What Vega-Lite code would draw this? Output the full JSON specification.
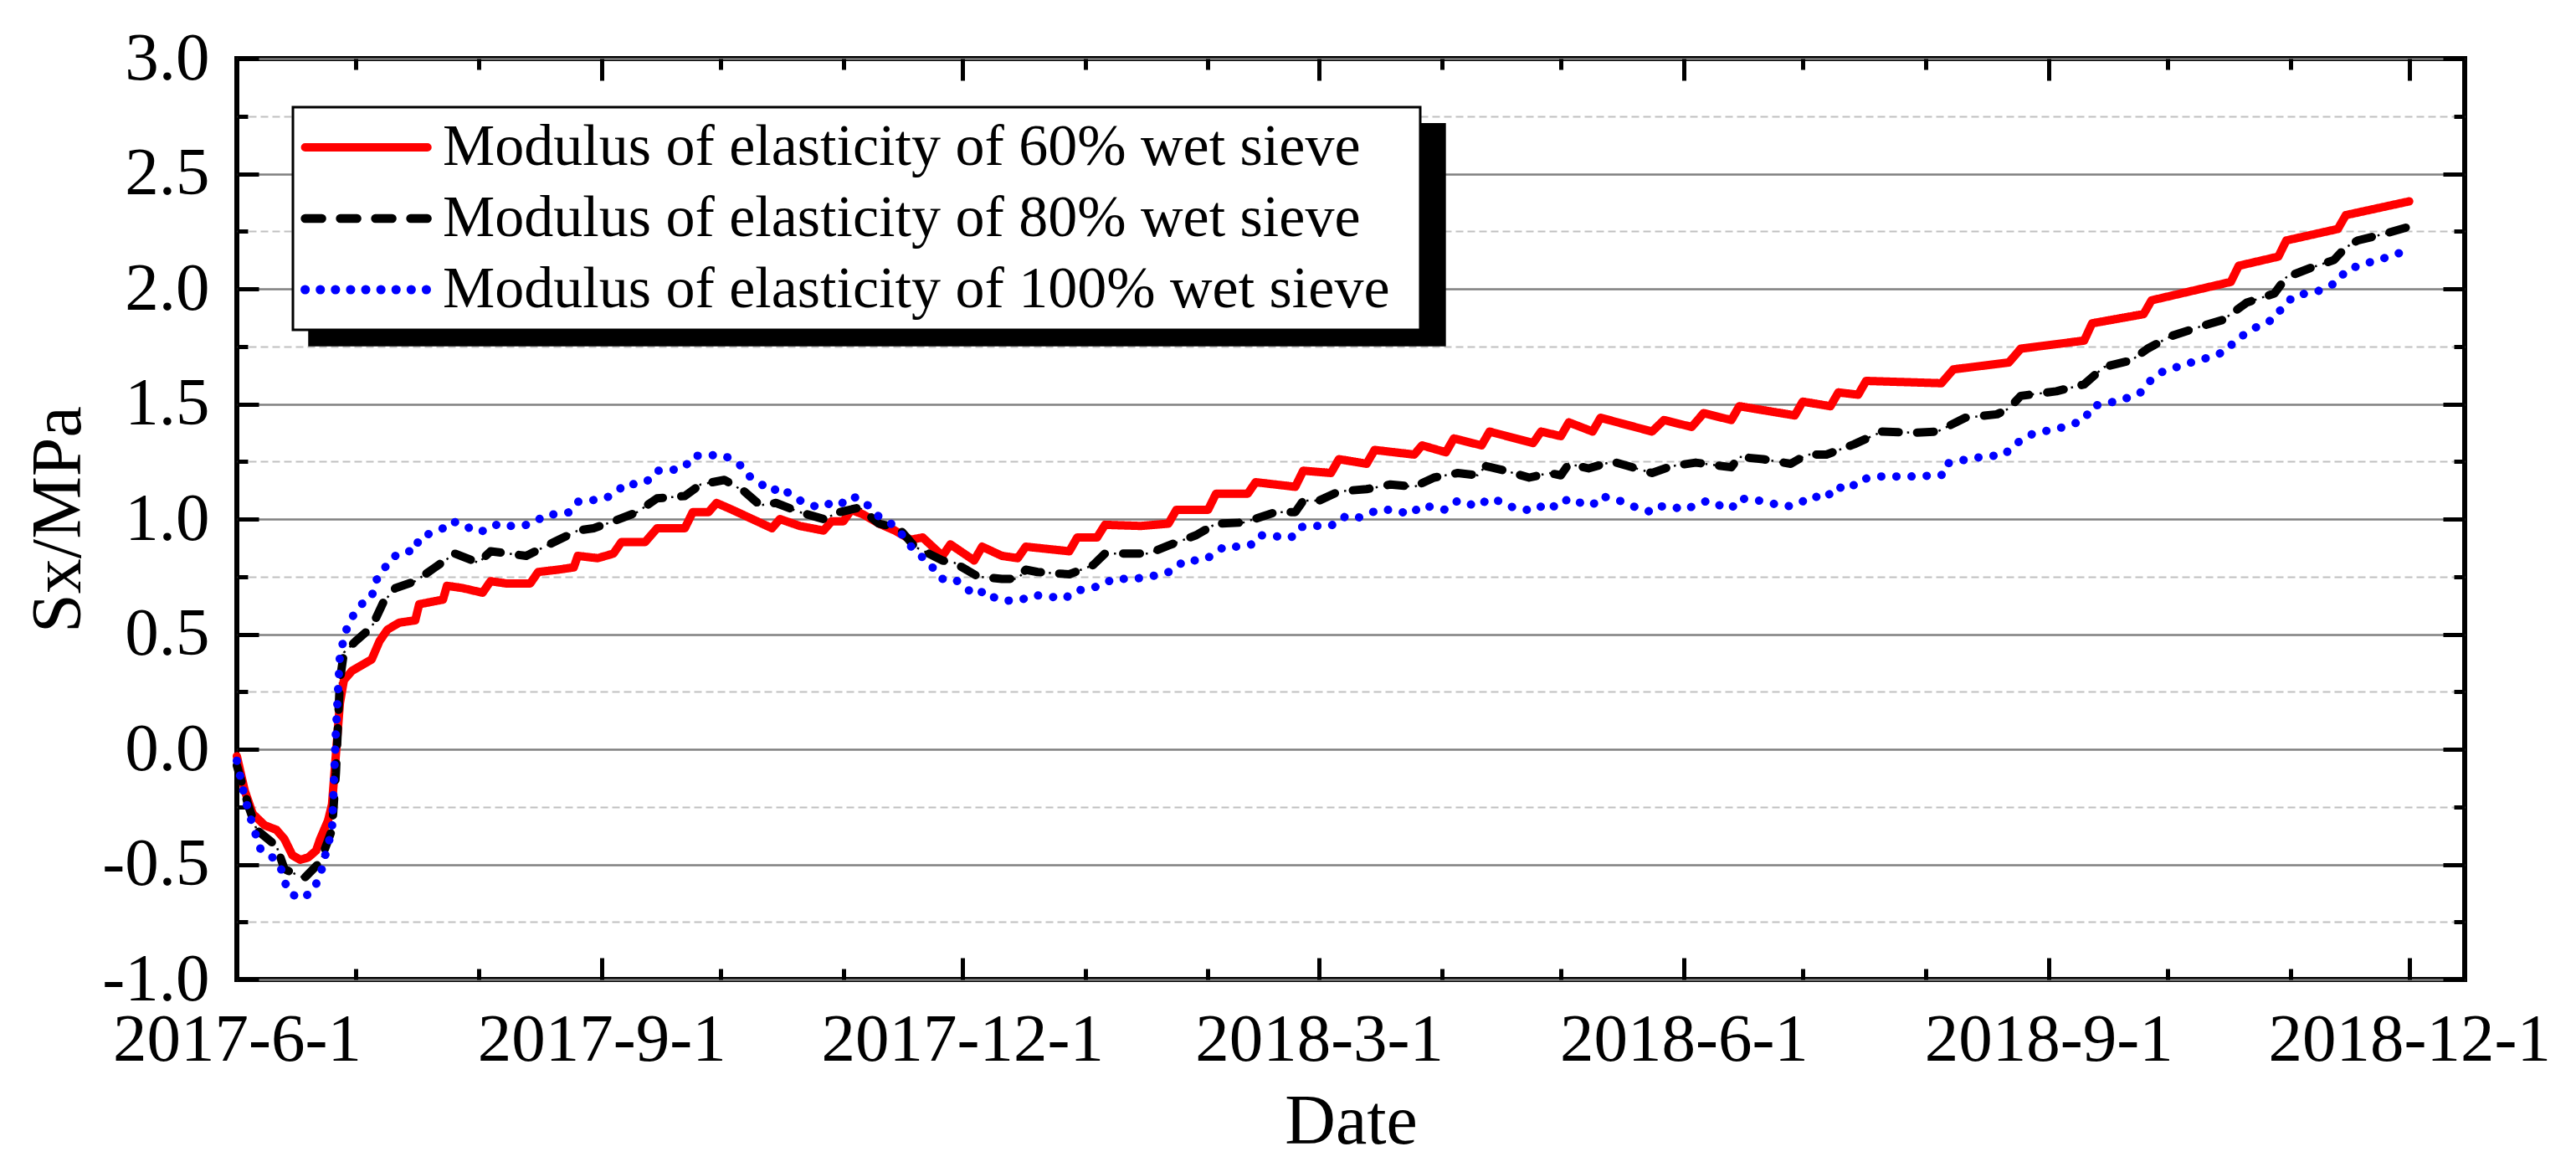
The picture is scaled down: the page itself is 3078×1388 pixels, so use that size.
{
  "$schema": "https://vega.github.io/schema/vega-lite/v6.json",
  "width": 2662,
  "height": 1100,
  "autosize": {"type": "none"},
  "padding": {"left": 283, "top": 70, "right": 133, "bottom": 218},
  "background": "white",
  "config": {
    "font": "Liberation Serif",
    "view": {"stroke": "black", "strokeWidth": 6},
    "axis": {"labelFont": "Liberation Serif", "titleFont": "Liberation Serif"},
    "legend": {"labelFont": "Liberation Serif", "titleFont": "Liberation Serif", "strokeWidth": 3}
  },
  "data": {
    "values": [
      {"d": "2017-06-01", "s": "60", "v": -0.03},
      {"d": "2017-06-03", "s": "60", "v": -0.18},
      {"d": "2017-06-05", "s": "60", "v": -0.28},
      {"d": "2017-06-08", "s": "60", "v": -0.33},
      {"d": "2017-06-11", "s": "60", "v": -0.35},
      {"d": "2017-06-13", "s": "60", "v": -0.39},
      {"d": "2017-06-15", "s": "60", "v": -0.46},
      {"d": "2017-06-17", "s": "60", "v": -0.48},
      {"d": "2017-06-19", "s": "60", "v": -0.47},
      {"d": "2017-06-21", "s": "60", "v": -0.44},
      {"d": "2017-06-22", "s": "60", "v": -0.39},
      {"d": "2017-06-24", "s": "60", "v": -0.31},
      {"d": "2017-06-25", "s": "60", "v": -0.24},
      {"d": "2017-06-26", "s": "60", "v": -0.02},
      {"d": "2017-06-27", "s": "60", "v": 0.20},
      {"d": "2017-06-28", "s": "60", "v": 0.30},
      {"d": "2017-06-30", "s": "60", "v": 0.34},
      {"d": "2017-07-03", "s": "60", "v": 0.37},
      {"d": "2017-07-05", "s": "60", "v": 0.39},
      {"d": "2017-07-07", "s": "60", "v": 0.47},
      {"d": "2017-07-09", "s": "60", "v": 0.52},
      {"d": "2017-07-12", "s": "60", "v": 0.55},
      {"d": "2017-07-16", "s": "60", "v": 0.56},
      {"d": "2017-07-17", "s": "60", "v": 0.63},
      {"d": "2017-07-20", "s": "60", "v": 0.64},
      {"d": "2017-07-23", "s": "60", "v": 0.65},
      {"d": "2017-07-24", "s": "60", "v": 0.71},
      {"d": "2017-07-28", "s": "60", "v": 0.70},
      {"d": "2017-08-02", "s": "60", "v": 0.68},
      {"d": "2017-08-04", "s": "60", "v": 0.73},
      {"d": "2017-08-08", "s": "60", "v": 0.72},
      {"d": "2017-08-14", "s": "60", "v": 0.72},
      {"d": "2017-08-16", "s": "60", "v": 0.77},
      {"d": "2017-08-21", "s": "60", "v": 0.78},
      {"d": "2017-08-25", "s": "60", "v": 0.79},
      {"d": "2017-08-26", "s": "60", "v": 0.84},
      {"d": "2017-08-31", "s": "60", "v": 0.83},
      {"d": "2017-09-04", "s": "60", "v": 0.85},
      {"d": "2017-09-06", "s": "60", "v": 0.90},
      {"d": "2017-09-12", "s": "60", "v": 0.90},
      {"d": "2017-09-15", "s": "60", "v": 0.96},
      {"d": "2017-09-22", "s": "60", "v": 0.96},
      {"d": "2017-09-24", "s": "60", "v": 1.03},
      {"d": "2017-09-28", "s": "60", "v": 1.03},
      {"d": "2017-09-30", "s": "60", "v": 1.07},
      {"d": "2017-10-04", "s": "60", "v": 1.04},
      {"d": "2017-10-09", "s": "60", "v": 1.00},
      {"d": "2017-10-14", "s": "60", "v": 0.96},
      {"d": "2017-10-16", "s": "60", "v": 1.00},
      {"d": "2017-10-21", "s": "60", "v": 0.97},
      {"d": "2017-10-27", "s": "60", "v": 0.95},
      {"d": "2017-10-29", "s": "60", "v": 0.99},
      {"d": "2017-11-01", "s": "60", "v": 0.99},
      {"d": "2017-11-03", "s": "60", "v": 1.04},
      {"d": "2017-11-06", "s": "60", "v": 1.02},
      {"d": "2017-11-10", "s": "60", "v": 0.98},
      {"d": "2017-11-14", "s": "60", "v": 0.95},
      {"d": "2017-11-18", "s": "60", "v": 0.91},
      {"d": "2017-11-21", "s": "60", "v": 0.92},
      {"d": "2017-11-26", "s": "60", "v": 0.84},
      {"d": "2017-11-28", "s": "60", "v": 0.89},
      {"d": "2017-12-04", "s": "60", "v": 0.82},
      {"d": "2017-12-06", "s": "60", "v": 0.88},
      {"d": "2017-12-11", "s": "60", "v": 0.84},
      {"d": "2017-12-15", "s": "60", "v": 0.83},
      {"d": "2017-12-17", "s": "60", "v": 0.88},
      {"d": "2017-12-28", "s": "60", "v": 0.86},
      {"d": "2017-12-30", "s": "60", "v": 0.92},
      {"d": "2018-01-04", "s": "60", "v": 0.92},
      {"d": "2018-01-06", "s": "60", "v": 0.975},
      {"d": "2018-01-15", "s": "60", "v": 0.97},
      {"d": "2018-01-22", "s": "60", "v": 0.98},
      {"d": "2018-01-24", "s": "60", "v": 1.04},
      {"d": "2018-02-01", "s": "60", "v": 1.04},
      {"d": "2018-02-03", "s": "60", "v": 1.11},
      {"d": "2018-02-11", "s": "60", "v": 1.11},
      {"d": "2018-02-13", "s": "60", "v": 1.16},
      {"d": "2018-02-23", "s": "60", "v": 1.14},
      {"d": "2018-02-25", "s": "60", "v": 1.21},
      {"d": "2018-03-04", "s": "60", "v": 1.20},
      {"d": "2018-03-06", "s": "60", "v": 1.26},
      {"d": "2018-03-13", "s": "60", "v": 1.24},
      {"d": "2018-03-15", "s": "60", "v": 1.30},
      {"d": "2018-03-25", "s": "60", "v": 1.28},
      {"d": "2018-03-27", "s": "60", "v": 1.32},
      {"d": "2018-04-02", "s": "60", "v": 1.29},
      {"d": "2018-04-04", "s": "60", "v": 1.35},
      {"d": "2018-04-11", "s": "60", "v": 1.32},
      {"d": "2018-04-13", "s": "60", "v": 1.38},
      {"d": "2018-04-24", "s": "60", "v": 1.33},
      {"d": "2018-04-26", "s": "60", "v": 1.38},
      {"d": "2018-05-01", "s": "60", "v": 1.36},
      {"d": "2018-05-03", "s": "60", "v": 1.42},
      {"d": "2018-05-09", "s": "60", "v": 1.38},
      {"d": "2018-05-11", "s": "60", "v": 1.44},
      {"d": "2018-05-24", "s": "60", "v": 1.38},
      {"d": "2018-05-27", "s": "60", "v": 1.43},
      {"d": "2018-06-03", "s": "60", "v": 1.40},
      {"d": "2018-06-06", "s": "60", "v": 1.46},
      {"d": "2018-06-13", "s": "60", "v": 1.43},
      {"d": "2018-06-15", "s": "60", "v": 1.49},
      {"d": "2018-06-29", "s": "60", "v": 1.45},
      {"d": "2018-07-01", "s": "60", "v": 1.51},
      {"d": "2018-07-08", "s": "60", "v": 1.49},
      {"d": "2018-07-10", "s": "60", "v": 1.55},
      {"d": "2018-07-15", "s": "60", "v": 1.54},
      {"d": "2018-07-17", "s": "60", "v": 1.60},
      {"d": "2018-08-05", "s": "60", "v": 1.59},
      {"d": "2018-08-08", "s": "60", "v": 1.65},
      {"d": "2018-08-22", "s": "60", "v": 1.68},
      {"d": "2018-08-25", "s": "60", "v": 1.74},
      {"d": "2018-09-10", "s": "60", "v": 1.775},
      {"d": "2018-09-12", "s": "60", "v": 1.85},
      {"d": "2018-09-25", "s": "60", "v": 1.89},
      {"d": "2018-09-27", "s": "60", "v": 1.95},
      {"d": "2018-10-17", "s": "60", "v": 2.03},
      {"d": "2018-10-19", "s": "60", "v": 2.10},
      {"d": "2018-10-29", "s": "60", "v": 2.14},
      {"d": "2018-10-31", "s": "60", "v": 2.21},
      {"d": "2018-11-13", "s": "60", "v": 2.26},
      {"d": "2018-11-15", "s": "60", "v": 2.32},
      {"d": "2018-12-01", "s": "60", "v": 2.38},

      {"d": "2017-06-01", "s": "80", "v": -0.07},
      {"d": "2017-06-04", "s": "80", "v": -0.25},
      {"d": "2017-06-06", "s": "80", "v": -0.35},
      {"d": "2017-06-11", "s": "80", "v": -0.42},
      {"d": "2017-06-13", "s": "80", "v": -0.52},
      {"d": "2017-06-18", "s": "80", "v": -0.56},
      {"d": "2017-06-22", "s": "80", "v": -0.49},
      {"d": "2017-06-25", "s": "80", "v": -0.35},
      {"d": "2017-06-26", "s": "80", "v": -0.10},
      {"d": "2017-06-27", "s": "80", "v": 0.30},
      {"d": "2017-06-28", "s": "80", "v": 0.42},
      {"d": "2017-07-01", "s": "80", "v": 0.47},
      {"d": "2017-07-05", "s": "80", "v": 0.53},
      {"d": "2017-07-08", "s": "80", "v": 0.64},
      {"d": "2017-07-11", "s": "80", "v": 0.70},
      {"d": "2017-07-16", "s": "80", "v": 0.73},
      {"d": "2017-07-21", "s": "80", "v": 0.79},
      {"d": "2017-07-26", "s": "80", "v": 0.85},
      {"d": "2017-08-01", "s": "80", "v": 0.81},
      {"d": "2017-08-04", "s": "80", "v": 0.86},
      {"d": "2017-08-13", "s": "80", "v": 0.84},
      {"d": "2017-08-20", "s": "80", "v": 0.90},
      {"d": "2017-08-26", "s": "80", "v": 0.95},
      {"d": "2017-08-30", "s": "80", "v": 0.96},
      {"d": "2017-09-04", "s": "80", "v": 0.99},
      {"d": "2017-09-10", "s": "80", "v": 1.03},
      {"d": "2017-09-15", "s": "80", "v": 1.09},
      {"d": "2017-09-22", "s": "80", "v": 1.10},
      {"d": "2017-09-26", "s": "80", "v": 1.15},
      {"d": "2017-10-02", "s": "80", "v": 1.17},
      {"d": "2017-10-07", "s": "80", "v": 1.12},
      {"d": "2017-10-11", "s": "80", "v": 1.06},
      {"d": "2017-10-15", "s": "80", "v": 1.07},
      {"d": "2017-10-21", "s": "80", "v": 1.03},
      {"d": "2017-10-27", "s": "80", "v": 1.00},
      {"d": "2017-10-31", "s": "80", "v": 1.03},
      {"d": "2017-11-05", "s": "80", "v": 1.05},
      {"d": "2017-11-10", "s": "80", "v": 0.98},
      {"d": "2017-11-15", "s": "80", "v": 0.96},
      {"d": "2017-11-19", "s": "80", "v": 0.88},
      {"d": "2017-11-26", "s": "80", "v": 0.82},
      {"d": "2017-11-29", "s": "80", "v": 0.81},
      {"d": "2017-12-05", "s": "80", "v": 0.75},
      {"d": "2017-12-11", "s": "80", "v": 0.74},
      {"d": "2017-12-15", "s": "80", "v": 0.74},
      {"d": "2017-12-17", "s": "80", "v": 0.78},
      {"d": "2017-12-20", "s": "80", "v": 0.77},
      {"d": "2017-12-28", "s": "80", "v": 0.76},
      {"d": "2018-01-03", "s": "80", "v": 0.80},
      {"d": "2018-01-06", "s": "80", "v": 0.85},
      {"d": "2018-01-11", "s": "80", "v": 0.85},
      {"d": "2018-01-17", "s": "80", "v": 0.85},
      {"d": "2018-01-22", "s": "80", "v": 0.885},
      {"d": "2018-01-29", "s": "80", "v": 0.93},
      {"d": "2018-02-03", "s": "80", "v": 0.98},
      {"d": "2018-02-10", "s": "80", "v": 0.985},
      {"d": "2018-02-18", "s": "80", "v": 1.03},
      {"d": "2018-02-23", "s": "80", "v": 1.03},
      {"d": "2018-02-25", "s": "80", "v": 1.08},
      {"d": "2018-03-01", "s": "80", "v": 1.08},
      {"d": "2018-03-06", "s": "80", "v": 1.12},
      {"d": "2018-03-13", "s": "80", "v": 1.13},
      {"d": "2018-03-19", "s": "80", "v": 1.15},
      {"d": "2018-03-25", "s": "80", "v": 1.14},
      {"d": "2018-03-30", "s": "80", "v": 1.18},
      {"d": "2018-04-05", "s": "80", "v": 1.20},
      {"d": "2018-04-10", "s": "80", "v": 1.19},
      {"d": "2018-04-12", "s": "80", "v": 1.23},
      {"d": "2018-04-17", "s": "80", "v": 1.21},
      {"d": "2018-04-23", "s": "80", "v": 1.18},
      {"d": "2018-04-28", "s": "80", "v": 1.20},
      {"d": "2018-05-01", "s": "80", "v": 1.19},
      {"d": "2018-05-03", "s": "80", "v": 1.24},
      {"d": "2018-05-08", "s": "80", "v": 1.22},
      {"d": "2018-05-14", "s": "80", "v": 1.25},
      {"d": "2018-05-24", "s": "80", "v": 1.20},
      {"d": "2018-05-29", "s": "80", "v": 1.23},
      {"d": "2018-06-04", "s": "80", "v": 1.245},
      {"d": "2018-06-13", "s": "80", "v": 1.225},
      {"d": "2018-06-15", "s": "80", "v": 1.27},
      {"d": "2018-06-21", "s": "80", "v": 1.26},
      {"d": "2018-06-28", "s": "80", "v": 1.24},
      {"d": "2018-07-02", "s": "80", "v": 1.28},
      {"d": "2018-07-07", "s": "80", "v": 1.28},
      {"d": "2018-07-14", "s": "80", "v": 1.325},
      {"d": "2018-07-21", "s": "80", "v": 1.38},
      {"d": "2018-07-29", "s": "80", "v": 1.375},
      {"d": "2018-08-04", "s": "80", "v": 1.38},
      {"d": "2018-08-11", "s": "80", "v": 1.44},
      {"d": "2018-08-19", "s": "80", "v": 1.455},
      {"d": "2018-08-22", "s": "80", "v": 1.48},
      {"d": "2018-08-25", "s": "80", "v": 1.535},
      {"d": "2018-09-03", "s": "80", "v": 1.555},
      {"d": "2018-09-10", "s": "80", "v": 1.585},
      {"d": "2018-09-15", "s": "80", "v": 1.66},
      {"d": "2018-09-22", "s": "80", "v": 1.69},
      {"d": "2018-09-26", "s": "80", "v": 1.74},
      {"d": "2018-10-02", "s": "80", "v": 1.795},
      {"d": "2018-10-10", "s": "80", "v": 1.84},
      {"d": "2018-10-15", "s": "80", "v": 1.865},
      {"d": "2018-10-21", "s": "80", "v": 1.94},
      {"d": "2018-10-28", "s": "80", "v": 1.98},
      {"d": "2018-10-31", "s": "80", "v": 2.05},
      {"d": "2018-11-06", "s": "80", "v": 2.09},
      {"d": "2018-11-12", "s": "80", "v": 2.125},
      {"d": "2018-11-15", "s": "80", "v": 2.18},
      {"d": "2018-11-18", "s": "80", "v": 2.21},
      {"d": "2018-11-25", "s": "80", "v": 2.24},
      {"d": "2018-12-01", "s": "80", "v": 2.27},

      {"d": "2017-06-01", "s": "100", "v": -0.05},
      {"d": "2017-06-03", "s": "100", "v": -0.21},
      {"d": "2017-06-05", "s": "100", "v": -0.33},
      {"d": "2017-06-07", "s": "100", "v": -0.435},
      {"d": "2017-06-10", "s": "100", "v": -0.47},
      {"d": "2017-06-12", "s": "100", "v": -0.51},
      {"d": "2017-06-13", "s": "100", "v": -0.57},
      {"d": "2017-06-14", "s": "100", "v": -0.62},
      {"d": "2017-06-17", "s": "100", "v": -0.65},
      {"d": "2017-06-20", "s": "100", "v": -0.62},
      {"d": "2017-06-22", "s": "100", "v": -0.55},
      {"d": "2017-06-23", "s": "100", "v": -0.48},
      {"d": "2017-06-25", "s": "100", "v": -0.35},
      {"d": "2017-06-26", "s": "100", "v": 0.08},
      {"d": "2017-06-27", "s": "100", "v": 0.41},
      {"d": "2017-06-28", "s": "100", "v": 0.48},
      {"d": "2017-06-29", "s": "100", "v": 0.54},
      {"d": "2017-07-01", "s": "100", "v": 0.60},
      {"d": "2017-07-03", "s": "100", "v": 0.64},
      {"d": "2017-07-05", "s": "100", "v": 0.66},
      {"d": "2017-07-06", "s": "100", "v": 0.73},
      {"d": "2017-07-08", "s": "100", "v": 0.78},
      {"d": "2017-07-10", "s": "100", "v": 0.83},
      {"d": "2017-07-13", "s": "100", "v": 0.86},
      {"d": "2017-07-16", "s": "100", "v": 0.86},
      {"d": "2017-07-17", "s": "100", "v": 0.92},
      {"d": "2017-07-21", "s": "100", "v": 0.945},
      {"d": "2017-07-23", "s": "100", "v": 0.96},
      {"d": "2017-07-25", "s": "100", "v": 0.99},
      {"d": "2017-07-28", "s": "100", "v": 0.98},
      {"d": "2017-07-31", "s": "100", "v": 0.945},
      {"d": "2017-08-03", "s": "100", "v": 0.95},
      {"d": "2017-08-06", "s": "100", "v": 0.98},
      {"d": "2017-08-09", "s": "100", "v": 0.97},
      {"d": "2017-08-12", "s": "100", "v": 0.97},
      {"d": "2017-08-15", "s": "100", "v": 0.985},
      {"d": "2017-08-18", "s": "100", "v": 1.02},
      {"d": "2017-08-21", "s": "100", "v": 1.02},
      {"d": "2017-08-24", "s": "100", "v": 1.03},
      {"d": "2017-08-26", "s": "100", "v": 1.075},
      {"d": "2017-08-29", "s": "100", "v": 1.08},
      {"d": "2017-09-02", "s": "100", "v": 1.09},
      {"d": "2017-09-05", "s": "100", "v": 1.12},
      {"d": "2017-09-07", "s": "100", "v": 1.155},
      {"d": "2017-09-10", "s": "100", "v": 1.15},
      {"d": "2017-09-13", "s": "100", "v": 1.17},
      {"d": "2017-09-15", "s": "100", "v": 1.21},
      {"d": "2017-09-18", "s": "100", "v": 1.21},
      {"d": "2017-09-22", "s": "100", "v": 1.225},
      {"d": "2017-09-24", "s": "100", "v": 1.275},
      {"d": "2017-09-27", "s": "100", "v": 1.275},
      {"d": "2017-10-01", "s": "100", "v": 1.28},
      {"d": "2017-10-04", "s": "100", "v": 1.26},
      {"d": "2017-10-07", "s": "100", "v": 1.22},
      {"d": "2017-10-08", "s": "100", "v": 1.19},
      {"d": "2017-10-11", "s": "100", "v": 1.155},
      {"d": "2017-10-14", "s": "100", "v": 1.12},
      {"d": "2017-10-16", "s": "100", "v": 1.14},
      {"d": "2017-10-18", "s": "100", "v": 1.115},
      {"d": "2017-10-20", "s": "100", "v": 1.09},
      {"d": "2017-10-23", "s": "100", "v": 1.065},
      {"d": "2017-10-26", "s": "100", "v": 1.05},
      {"d": "2017-10-29", "s": "100", "v": 1.07},
      {"d": "2017-10-31", "s": "100", "v": 1.06},
      {"d": "2017-11-03", "s": "100", "v": 1.10},
      {"d": "2017-11-06", "s": "100", "v": 1.08},
      {"d": "2017-11-08", "s": "100", "v": 1.045},
      {"d": "2017-11-10", "s": "100", "v": 1.01},
      {"d": "2017-11-13", "s": "100", "v": 0.98},
      {"d": "2017-11-15", "s": "100", "v": 0.95},
      {"d": "2017-11-17", "s": "100", "v": 0.905},
      {"d": "2017-11-19", "s": "100", "v": 0.86},
      {"d": "2017-11-22", "s": "100", "v": 0.82},
      {"d": "2017-11-24", "s": "100", "v": 0.78},
      {"d": "2017-11-26", "s": "100", "v": 0.74},
      {"d": "2017-11-29", "s": "100", "v": 0.74},
      {"d": "2017-12-02", "s": "100", "v": 0.70},
      {"d": "2017-12-04", "s": "100", "v": 0.67},
      {"d": "2017-12-07", "s": "100", "v": 0.69},
      {"d": "2017-12-09", "s": "100", "v": 0.66},
      {"d": "2017-12-12", "s": "100", "v": 0.645},
      {"d": "2017-12-16", "s": "100", "v": 0.65},
      {"d": "2017-12-19", "s": "100", "v": 0.67},
      {"d": "2017-12-22", "s": "100", "v": 0.665},
      {"d": "2017-12-27", "s": "100", "v": 0.655},
      {"d": "2017-12-29", "s": "100", "v": 0.685},
      {"d": "2018-01-02", "s": "100", "v": 0.70},
      {"d": "2018-01-05", "s": "100", "v": 0.71},
      {"d": "2018-01-08", "s": "100", "v": 0.74},
      {"d": "2018-01-12", "s": "100", "v": 0.74},
      {"d": "2018-01-16", "s": "100", "v": 0.745},
      {"d": "2018-01-20", "s": "100", "v": 0.76},
      {"d": "2018-01-23", "s": "100", "v": 0.775},
      {"d": "2018-01-26", "s": "100", "v": 0.82},
      {"d": "2018-01-30", "s": "100", "v": 0.82},
      {"d": "2018-02-02", "s": "100", "v": 0.84},
      {"d": "2018-02-05", "s": "100", "v": 0.88},
      {"d": "2018-02-09", "s": "100", "v": 0.88},
      {"d": "2018-02-12", "s": "100", "v": 0.89},
      {"d": "2018-02-14", "s": "100", "v": 0.93},
      {"d": "2018-02-18", "s": "100", "v": 0.925},
      {"d": "2018-02-22", "s": "100", "v": 0.92},
      {"d": "2018-02-24", "s": "100", "v": 0.965},
      {"d": "2018-02-28", "s": "100", "v": 0.97},
      {"d": "2018-03-04", "s": "100", "v": 0.97},
      {"d": "2018-03-07", "s": "100", "v": 1.01},
      {"d": "2018-03-10", "s": "100", "v": 1.00},
      {"d": "2018-03-13", "s": "100", "v": 1.02},
      {"d": "2018-03-16", "s": "100", "v": 1.04},
      {"d": "2018-03-20", "s": "100", "v": 1.04},
      {"d": "2018-03-24", "s": "100", "v": 1.02},
      {"d": "2018-03-27", "s": "100", "v": 1.06},
      {"d": "2018-03-30", "s": "100", "v": 1.05},
      {"d": "2018-04-02", "s": "100", "v": 1.04},
      {"d": "2018-04-05", "s": "100", "v": 1.08},
      {"d": "2018-04-08", "s": "100", "v": 1.065},
      {"d": "2018-04-10", "s": "100", "v": 1.055},
      {"d": "2018-04-13", "s": "100", "v": 1.09},
      {"d": "2018-04-16", "s": "100", "v": 1.075},
      {"d": "2018-04-19", "s": "100", "v": 1.05},
      {"d": "2018-04-22", "s": "100", "v": 1.04},
      {"d": "2018-04-25", "s": "100", "v": 1.04},
      {"d": "2018-04-27", "s": "100", "v": 1.07},
      {"d": "2018-04-30", "s": "100", "v": 1.05},
      {"d": "2018-05-03", "s": "100", "v": 1.09},
      {"d": "2018-05-06", "s": "100", "v": 1.07},
      {"d": "2018-05-09", "s": "100", "v": 1.06},
      {"d": "2018-05-11", "s": "100", "v": 1.10},
      {"d": "2018-05-15", "s": "100", "v": 1.085},
      {"d": "2018-05-18", "s": "100", "v": 1.065},
      {"d": "2018-05-20", "s": "100", "v": 1.05},
      {"d": "2018-05-24", "s": "100", "v": 1.03},
      {"d": "2018-05-26", "s": "100", "v": 1.055},
      {"d": "2018-05-29", "s": "100", "v": 1.055},
      {"d": "2018-06-01", "s": "100", "v": 1.04},
      {"d": "2018-06-04", "s": "100", "v": 1.06},
      {"d": "2018-06-07", "s": "100", "v": 1.08},
      {"d": "2018-06-10", "s": "100", "v": 1.06},
      {"d": "2018-06-13", "s": "100", "v": 1.045},
      {"d": "2018-06-15", "s": "100", "v": 1.09},
      {"d": "2018-06-20", "s": "100", "v": 1.08},
      {"d": "2018-06-24", "s": "100", "v": 1.065},
      {"d": "2018-06-27", "s": "100", "v": 1.055},
      {"d": "2018-06-30", "s": "100", "v": 1.065},
      {"d": "2018-07-03", "s": "100", "v": 1.10},
      {"d": "2018-07-07", "s": "100", "v": 1.09},
      {"d": "2018-07-09", "s": "100", "v": 1.14},
      {"d": "2018-07-13", "s": "100", "v": 1.13},
      {"d": "2018-07-15", "s": "100", "v": 1.17},
      {"d": "2018-07-20", "s": "100", "v": 1.185},
      {"d": "2018-07-28", "s": "100", "v": 1.185},
      {"d": "2018-08-05", "s": "100", "v": 1.19},
      {"d": "2018-08-06", "s": "100", "v": 1.24},
      {"d": "2018-08-13", "s": "100", "v": 1.265},
      {"d": "2018-08-21", "s": "100", "v": 1.28},
      {"d": "2018-08-23", "s": "100", "v": 1.32},
      {"d": "2018-08-28", "s": "100", "v": 1.37},
      {"d": "2018-09-05", "s": "100", "v": 1.40},
      {"d": "2018-09-10", "s": "100", "v": 1.43},
      {"d": "2018-09-12", "s": "100", "v": 1.49},
      {"d": "2018-09-19", "s": "100", "v": 1.515},
      {"d": "2018-09-24", "s": "100", "v": 1.545},
      {"d": "2018-09-26", "s": "100", "v": 1.59},
      {"d": "2018-09-29", "s": "100", "v": 1.635},
      {"d": "2018-10-05", "s": "100", "v": 1.67},
      {"d": "2018-10-11", "s": "100", "v": 1.70},
      {"d": "2018-10-16", "s": "100", "v": 1.73},
      {"d": "2018-10-18", "s": "100", "v": 1.775},
      {"d": "2018-10-23", "s": "100", "v": 1.83},
      {"d": "2018-10-28", "s": "100", "v": 1.87},
      {"d": "2018-10-30", "s": "100", "v": 1.92},
      {"d": "2018-11-02", "s": "100", "v": 1.97},
      {"d": "2018-11-08", "s": "100", "v": 1.99},
      {"d": "2018-11-13", "s": "100", "v": 2.03},
      {"d": "2018-11-15", "s": "100", "v": 2.08},
      {"d": "2018-11-19", "s": "100", "v": 2.105},
      {"d": "2018-11-25", "s": "100", "v": 2.135},
      {"d": "2018-12-01", "s": "100", "v": 2.17}
    ]
  },
  "layer": [
    {
      "data": {"values": [{}]},
      "mark": {"type": "rect", "fill": "black"},
      "encoding": {
        "x": {"datum": {"year": 2017, "month": 6, "date": 19, "utc": true}, "type": "temporal", "axis": null, "scale": {"type": "utc"}},
        "x2": {"datum": {"year": 2018, "month": 4, "date": 2, "utc": true}},
        "y": {"datum": 2.72, "type": "quantitative", "axis": null},
        "y2": {"datum": 1.75}
      }
    },
    {
      "transform": [{"filter": "datum.s == '80'"}],
      "mark": {"type": "line", "color": "black", "strokeWidth": 2.5, "strokeDash": [2.5, 7]},
      "encoding": {
        "x": {"field": "d", "type": "temporal", "scale": {"type": "utc"}, "axis": null},
        "y": {"field": "v", "type": "quantitative", "axis": null}
      }
    },
    {
      "mark": {"type": "line", "strokeWidth": 10, "strokeCap": "round", "strokeJoin": "round"},
      "encoding": {
        "x": {
          "field": "d",
          "type": "temporal",
          "scale": {"type": "utc", "domain": [{"year": 2017, "month": 6, "date": 1, "utc": true}, {"year": 2018, "month": 12, "date": 15, "utc": true}], "nice": false},
          "axis": {
            "orient": "bottom",
            "values": [
              {"year": 2017, "month": 6, "date": 1, "utc": true},
              {"year": 2017, "month": 7, "date": 1, "utc": true},
              {"year": 2017, "month": 8, "date": 1, "utc": true},
              {"year": 2017, "month": 9, "date": 1, "utc": true},
              {"year": 2017, "month": 10, "date": 1, "utc": true},
              {"year": 2017, "month": 11, "date": 1, "utc": true},
              {"year": 2017, "month": 12, "date": 1, "utc": true},
              {"year": 2018, "month": 1, "date": 1, "utc": true},
              {"year": 2018, "month": 2, "date": 1, "utc": true},
              {"year": 2018, "month": 3, "date": 1, "utc": true},
              {"year": 2018, "month": 4, "date": 1, "utc": true},
              {"year": 2018, "month": 5, "date": 1, "utc": true},
              {"year": 2018, "month": 6, "date": 1, "utc": true},
              {"year": 2018, "month": 7, "date": 1, "utc": true},
              {"year": 2018, "month": 8, "date": 1, "utc": true},
              {"year": 2018, "month": 9, "date": 1, "utc": true},
              {"year": 2018, "month": 10, "date": 1, "utc": true},
              {"year": 2018, "month": 11, "date": 1, "utc": true},
              {"year": 2018, "month": 12, "date": 1, "utc": true}
            ],
            "domain": false,
            "grid": false,
            "tickColor": "black",
            "tickWidth": 5,
            "tickSize": {"condition": {"test": "utcmonth(datum.value) % 3 == 2", "value": -26}, "value": -13},
            "labelExpr": "utcmonth(datum.value) % 3 == 2 ? utcyear(datum.value) + '-' + (utcmonth(datum.value) + 1) + '-1' : ''",
            "labelFont": "Liberation Serif",
            "labelFontSize": 81,
            "labelColor": "black",
            "labelBaseline": "alphabetic",
            "labelPadding": 122,
            "labelLimit": 2000,
            "labelFlush": false,
            "labelOverlap": false,
            "labelBound": false,
            "title": "Date",
            "titleFont": "Liberation Serif",
            "titleFontSize": 84,
            "titleFontWeight": "normal",
            "titleColor": "black",
            "titleX": 1331,
            "titleY": 195,
            "titleBaseline": "alphabetic"
          }
        },
        "y": {
          "field": "v",
          "type": "quantitative",
          "scale": {"domain": [-1, 3], "nice": false, "zero": false},
          "axis": {
            "orient": "left",
            "values": [-1, -0.75, -0.5, -0.25, 0, 0.25, 0.5, 0.75, 1, 1.25, 1.5, 1.75, 2, 2.25, 2.5, 2.75, 3],
            "domain": false,
            "grid": true,
            "gridColor": {"condition": {"test": "abs(datum.value * 2 - round(datum.value * 2)) < 0.001", "value": "#808080"}, "value": "#c0c0c0"},
            "gridDash": {"condition": {"test": "abs(datum.value * 2 - round(datum.value * 2)) < 0.001", "value": [1, 0]}, "value": [9, 5]},
            "gridWidth": {"condition": {"test": "abs(datum.value * 2 - round(datum.value * 2)) < 0.001", "value": 2.5}, "value": 2},
            "tickColor": "black",
            "tickWidth": 5,
            "tickSize": {"condition": {"test": "abs(datum.value * 2 - round(datum.value * 2)) < 0.001", "value": -26}, "value": -13},
            "labelExpr": "abs(datum.value * 2 - round(datum.value * 2)) < 0.001 ? (datum.value < 0 ? '-' : '') + format(abs(datum.value), '.1f') : ''",
            "labelFont": "Liberation Serif",
            "labelFontSize": 81,
            "labelColor": "black",
            "labelPadding": 59,
            "labelLimit": 2000,
            "labelFlush": false,
            "labelOverlap": false,
            "labelBound": false,
            "title": "Sx/MPa",
            "titleFont": "Liberation Serif",
            "titleFontSize": 84,
            "titleFontWeight": "normal",
            "titleColor": "black",
            "titleX": -188,
            "titleY": 550,
            "titleBaseline": "alphabetic"
          }
        },
        "color": {
          "field": "s",
          "type": "nominal",
          "scale": {"domain": ["60", "80", "100"], "range": ["#ff0000", "#000000", "#0000ff"]},
          "legend": {
            "title": " ",
            "titleOrient": "right",
            "titlePadding": 24,
            "titleFontSize": 70,
            "orient": "none",
            "legendX": 67,
            "legendY": 58,
            "direction": "vertical",
            "symbolType": "M-1.63,0H5.5",
            "symbolSize": 1681,
            "symbolStrokeWidth": 10,
            "symbolFillColor": "transparent",
            "labelFont": "Liberation Serif",
            "labelFontSize": 70,
            "labelColor": "black",
            "labelLimit": 3000,
            "labelOffset": 96,
            "rowPadding": 15,
            "padding": 13,
            "strokeColor": "black",
            "fillColor": "white",
            "labelExpr": "'Modulus of elasticity of ' + datum.label + '% wet sieve'",
            "encoding": {
              "symbols": {"strokeCap": {"value": "round"}, "fill": {"value": "transparent"}},
              "legend": {"strokeWidth": {"value": 3}}
            }
          }
        },
        "strokeDash": {
          "field": "s",
          "type": "nominal",
          "scale": {"domain": ["60", "80", "100"], "range": [[1, 0], [20, 22], [0.1, 18]]},
          "legend": {
            "title": " ",
            "titleOrient": "right",
            "titlePadding": 24,
            "titleFontSize": 70,
            "orient": "none",
            "legendX": 67,
            "legendY": 58,
            "direction": "vertical",
            "symbolType": "M-1.63,0H5.5",
            "symbolSize": 1681,
            "symbolStrokeWidth": 10,
            "symbolFillColor": "transparent",
            "labelFont": "Liberation Serif",
            "labelFontSize": 70,
            "labelColor": "black",
            "labelLimit": 3000,
            "labelOffset": 96,
            "rowPadding": 15,
            "padding": 13,
            "strokeColor": "black",
            "fillColor": "white",
            "labelExpr": "'Modulus of elasticity of ' + datum.label + '% wet sieve'",
            "encoding": {
              "symbols": {"strokeCap": {"value": "round"}, "fill": {"value": "transparent"}},
              "legend": {"strokeWidth": {"value": 3}}
            }
          }
        },
        "strokeWidth": {
          "field": "s",
          "type": "nominal",
          "scale": {"domain": ["60", "80", "100"], "range": [10, 11, 11]},
          "legend": null
        }
      }
    },
    {
      "mark": {"type": "point", "opacity": 0},
      "encoding": {
        "x": {
          "field": "d",
          "type": "temporal",
          "scale": {"type": "utc"},
          "axis": {
            "orient": "top",
            "values": [
              {"year": 2017, "month": 6, "date": 1, "utc": true},
              {"year": 2017, "month": 7, "date": 1, "utc": true},
              {"year": 2017, "month": 8, "date": 1, "utc": true},
              {"year": 2017, "month": 9, "date": 1, "utc": true},
              {"year": 2017, "month": 10, "date": 1, "utc": true},
              {"year": 2017, "month": 11, "date": 1, "utc": true},
              {"year": 2017, "month": 12, "date": 1, "utc": true},
              {"year": 2018, "month": 1, "date": 1, "utc": true},
              {"year": 2018, "month": 2, "date": 1, "utc": true},
              {"year": 2018, "month": 3, "date": 1, "utc": true},
              {"year": 2018, "month": 4, "date": 1, "utc": true},
              {"year": 2018, "month": 5, "date": 1, "utc": true},
              {"year": 2018, "month": 6, "date": 1, "utc": true},
              {"year": 2018, "month": 7, "date": 1, "utc": true},
              {"year": 2018, "month": 8, "date": 1, "utc": true},
              {"year": 2018, "month": 9, "date": 1, "utc": true},
              {"year": 2018, "month": 10, "date": 1, "utc": true},
              {"year": 2018, "month": 11, "date": 1, "utc": true},
              {"year": 2018, "month": 12, "date": 1, "utc": true}
            ],
            "domain": false,
            "grid": false,
            "labels": false,
            "title": null,
            "tickColor": "black",
            "tickWidth": 5,
            "tickSize": {"condition": {"test": "utcmonth(datum.value) % 3 == 2", "value": -26}, "value": -13}
          }
        },
        "y": {
          "field": "v",
          "type": "quantitative",
          "axis": {
            "orient": "right",
            "values": [-1, -0.75, -0.5, -0.25, 0, 0.25, 0.5, 0.75, 1, 1.25, 1.5, 1.75, 2, 2.25, 2.5, 2.75, 3],
            "domain": false,
            "grid": false,
            "labels": false,
            "title": null,
            "tickColor": "black",
            "tickWidth": 5,
            "tickSize": {"condition": {"test": "abs(datum.value * 2 - round(datum.value * 2)) < 0.001", "value": -26}, "value": -13}
          }
        }
      }
    }
  ],
  "resolve": {"axis": {"x": "independent", "y": "independent"}}
}
